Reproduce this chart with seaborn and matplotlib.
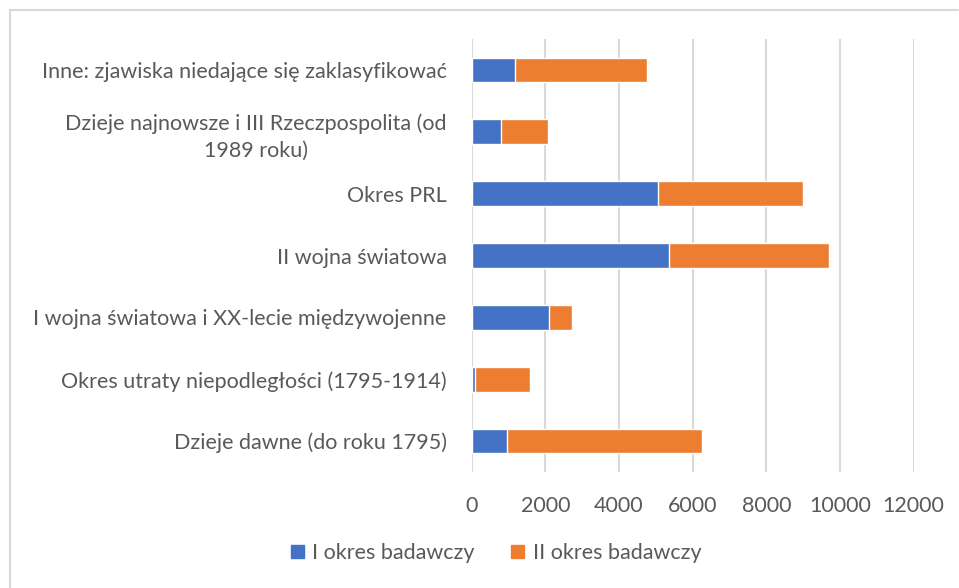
import matplotlib.pyplot as plt
import matplotlib.patches as mpatches
from matplotlib.lines import Line2D
import pandas as pd
import seaborn as sns

categories = [
    'Inne: zjawiska niedające się zaklasyfikować',
    'Dzieje najnowsze i III Rzeczpospolita (od\n1989 roku)',
    'Okres PRL',
    'II wojna światowa',
    'I wojna światowa i XX-lecie międzywojenne',
    'Okres utraty niepodległości (1795-1914)',
    'Dzieje dawne (do roku 1795)',
]
okres_1 = [1180, 800, 5065, 5355, 2105, 100, 960]
okres_2 = [3580, 1270, 3935, 4335, 615, 1490, 5290]
series_names = ['I okres badawczy', 'II okres badawczy']
xticks = [0, 2000, 4000, 6000, 8000, 10000, 12000]

blue = '#4472C4'
orange = '#ED7D31'
text_col = '#595959'
fs = 15.5

df = pd.DataFrame({'cat': categories, 'I': okres_1, 'II': okres_2})
df['total'] = df['I'] + df['II']

sns.set_theme(style='white')
plt.rcParams['font.family'] = ['Lato', 'DejaVu Sans']

fig = plt.figure(figsize=(9.59, 5.88), dpi=100)
ax = fig.add_axes([471.7 / 959, 1 - 472 / 588, (913.7 - 471.7) / 959, 433 / 588])

# stacked: total in orange, first period drawn over it in blue
sns.barplot(data=df, y='cat', x='total', color=orange, width=0.4,
            saturation=1, ax=ax, orient='h')
sns.barplot(data=df, y='cat', x='I', color=blue, width=0.4,
            saturation=1, ax=ax, orient='h')

ax.set_xlim(0, 12000)
ax.set_xticks(xticks)
ax.set_xticklabels([str(t) for t in xticks])
ax.xaxis.grid(True, color='#D9D9D9', linewidth=1.5)
ax.set_axisbelow(True)
for s in ax.spines.values():
    s.set_visible(False)
ax.set_xlabel('')
ax.set_ylabel('')
ax.tick_params(axis='x', length=0, pad=17, labelsize=fs, labelcolor=text_col)
ax.tick_params(axis='y', length=0, pad=18, labelsize=fs, labelcolor=text_col)
for lbl in ax.get_yticklabels():
    lbl.set_multialignment('center')
    lbl.set_linespacing(1.45)

handles = [mpatches.Patch(color=blue, label=series_names[0]),
           mpatches.Patch(color=orange, label=series_names[1])]
fig.legend(handles=handles, loc='center', bbox_to_anchor=(496 / 959, 1 - 553 / 588),
           ncol=2, frameon=False, fontsize=fs, labelcolor=text_col,
           handlelength=0.6, handleheight=0.6, handletextpad=0.4,
           columnspacing=1.7)

# chart frame: only top and left edges are visible in the crop
fig.add_artist(Line2D([10 / 959, 958 / 959], [1 - 9.5 / 588, 1 - 9.5 / 588],
                      transform=fig.transFigure, color='#D9D9D9', linewidth=1.5))
fig.add_artist(Line2D([10 / 959, 10 / 959], [1 - 9.5 / 588, 0],
                      transform=fig.transFigure, color='#D9D9D9', linewidth=1.5))

fig.savefig('out.png', dpi=100)
